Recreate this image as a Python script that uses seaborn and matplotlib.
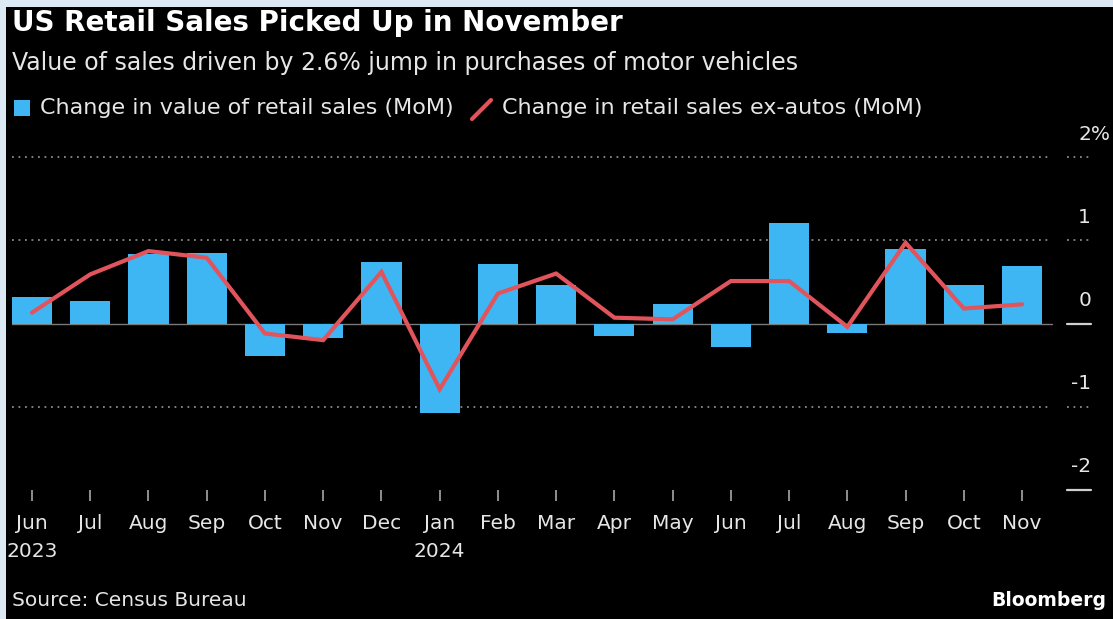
import matplotlib
matplotlib.use("Agg")
import matplotlib.pyplot as plt
import matplotlib.transforms as mtransforms
from matplotlib.patches import Rectangle
from matplotlib.lines import Line2D
import seaborn as sns
import pandas as pd

# ---- data ----
months = ["Jun", "Jul", "Aug", "Sep", "Oct", "Nov", "Dec", "Jan", "Feb", "Mar",
          "Apr", "May", "Jun", "Jul", "Aug", "Sep", "Oct", "Nov"]
years = {0: "2023", 7: "2024"}
retail_sales = [0.32, 0.27, 0.83, 0.85, -0.39, -0.18, 0.74, -1.08, 0.71, 0.46,
                -0.15, 0.23, -0.28, 1.21, -0.11, 0.90, 0.46, 0.69]
ex_autos = [0.13, 0.59, 0.87, 0.79, -0.12, -0.20, 0.62, -0.79, 0.36, 0.60,
            0.07, 0.05, 0.51, 0.51, -0.04, 0.97, 0.18, 0.23]
ytick_vals = [2, 1, 0, -1, -2]
ytick_labels = ["2%", "1", "0", "-1", "-2"]

title = "US Retail Sales Picked Up in November"
subtitle = "Value of sales driven by 2.6% jump in purchases of motor vehicles"
legend_bar = "Change in value of retail sales (MoM)"
legend_line = "Change in retail sales ex-autos (MoM)"
source = "Source: Census Bureau"

# ---- style ----
BG = "#000000"
BORDER = "#dce8f4"
BAR = "#3fb6f4"
LINE = "#e2545c"
TEXT = "#e6e6e6"
GRID = "#8a8a8a"

sns.set_style("dark")
plt.rcParams["font.family"] = ["DejaVu Sans"]

W, H = 1113, 619
fig = plt.figure(figsize=(W / 100, H / 100), dpi=100, facecolor=BORDER)

def fx(px):
    return px / W

def fy(py):
    return 1 - py / H

# black panel (leaving light border on left/top)
fig.patches.append(Rectangle((fx(6), 0), 1 - fx(6), fy(7), transform=fig.transFigure,
                             facecolor=BG, edgecolor="none", zorder=-10))

ax_left, ax_right, ax_top, ax_bot = 12, 1052, 157, 490
ax = fig.add_axes([fx(ax_left), fy(ax_bot), fx(ax_right - ax_left), (ax_bot - ax_top) / H])
ax.set_facecolor("none")

df = pd.DataFrame({"idx": list(range(len(months))), "sales": retail_sales, "exauto": ex_autos})

sns.barplot(data=df, x="idx", y="sales", color=BAR, saturation=1, width=0.69, ax=ax,
            zorder=3, edgecolor="none", linewidth=0)
sns.lineplot(data=df, x="idx", y="exauto", color=LINE, linewidth=3.0, ax=ax, zorder=4,
             solid_joinstyle="miter")

ax.set_xlim(-0.343, 17.514)
ax.set_ylim(-2, 2)
for s in ax.spines.values():
    s.set_visible(False)
ax.grid(False)
ax.set_xlabel("")
ax.set_ylabel("")
ax.set_yticks([])

# x ticks
labels = [m + ("\n" + years[i] if i in years else "") for i, m in enumerate(months)]
ax.set_xticks(range(len(months)))
ax.set_xticklabels(labels)
ax.tick_params(axis="x", bottom=True, colors="#9a9a9a", length=8, width=1.3, pad=9,
               labelsize=14.5, labelcolor=TEXT, direction="out")
for t in ax.get_xticklabels():
    t.set_linespacing(1.62)
    t.set_verticalalignment("top")

# gridlines & right labels
blend = mtransforms.blended_transform_factory(ax.transAxes, ax.transData)
seg_x0 = (1067 - ax_left) / (ax_right - ax_left)
seg_x1 = (1091 - ax_left) / (ax_right - ax_left)
for v, lab in zip(ytick_vals, ytick_labels):
    if v in (2, 1, -1):
        ax.plot([0, 1], [v, v], transform=blend, color=GRID, lw=1.3,
                ls=(0, (1, 2.6)), zorder=1, clip_on=False)
        ax.plot([seg_x0, seg_x1], [v, v], transform=blend, color=GRID, lw=1.3,
                ls=(0, (1, 2.6)), clip_on=False)
    elif v == 0:
        ax.plot([0, 1], [v, v], transform=blend, color="#7a7a7a", lw=1.0,
                zorder=2, clip_on=False)
        ax.plot([seg_x0, seg_x1], [v, v], transform=blend, color="#d0d0d0", lw=1.6,
                clip_on=False)
    else:
        ax.plot([seg_x0, seg_x1], [v, v], transform=blend, color="#d0d0d0", lw=1.6,
                clip_on=False)
    if lab.endswith("%"):
        ax.annotate(lab, xy=((1079 - ax_left) / (ax_right - ax_left), v), xycoords=blend,
                    xytext=(0, 23), textcoords="offset pixels", ha="left", va="center",
                    color=TEXT, fontsize=14.5, annotation_clip=False)
    else:
        ax.annotate(lab, xy=(seg_x1, v), xycoords=blend,
                    xytext=(0, 23), textcoords="offset pixels", ha="right", va="center",
                    color=TEXT, fontsize=14.5, annotation_clip=False)

# titles
fig.text(fx(12), fy(23), title, color="white", fontsize=20, fontweight="bold",
         ha="left", va="center")
fig.text(fx(12), fy(63), subtitle, color=TEXT, fontsize=17, ha="left", va="center")

# legend (manual)
fig.patches.append(Rectangle((fx(14), fy(116)), fx(16), 16 / H, transform=fig.transFigure,
                             facecolor=BAR, edgecolor="none"))
fig.text(fx(40), fy(108), legend_bar, color=TEXT, fontsize=16, ha="left", va="center")
fig.lines.append(Line2D([fx(472), fx(491)], [fy(119), fy(100)], transform=fig.transFigure,
                        color=LINE, lw=3, solid_capstyle="round"))
fig.text(fx(502), fy(108), legend_line, color=TEXT, fontsize=16, ha="left", va="center")

# footer
fig.text(fx(12), fy(601), source, color=TEXT, fontsize=14.5, ha="left", va="center")
fig.text(fx(1106), fy(600), "Bloomberg", color="white", fontsize=13.5, fontweight="bold",
         ha="right", va="center")

fig.savefig("out.png", dpi=100, facecolor=fig.get_facecolor())
